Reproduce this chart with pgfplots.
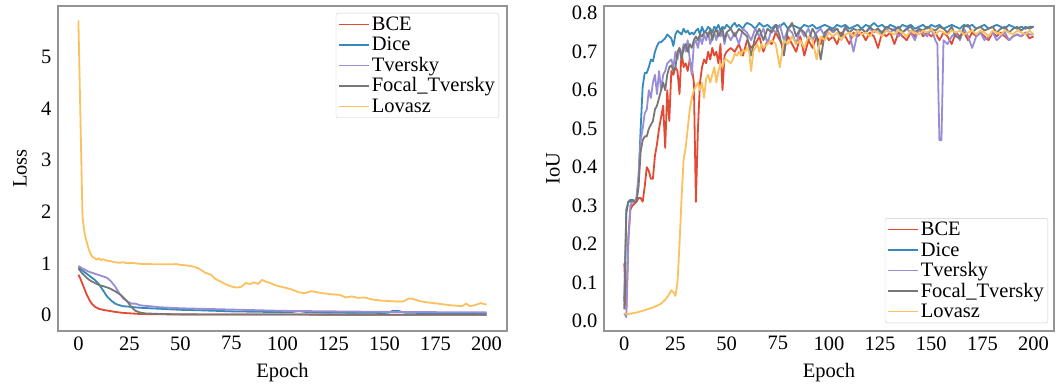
\documentclass[border=0pt]{standalone}
\usepackage{fontspec}
\setmainfont{Liberation Serif}
\usepackage{pgfplots}
\pgfplotsset{compat=1.18}
\definecolor{cBCE}{HTML}{E24A33}
\definecolor{cDice}{HTML}{348ABD}
\definecolor{cTv}{HTML}{988ED5}
\definecolor{cFT}{HTML}{777777}
\definecolor{cLov}{HTML}{FBC15E}
\newcommand{\bigf}{\fontsize{20.5}{24}\selectfont}
\pgfplotsset{
  myaxis/.style={
    scale only axis,
    axis line style={draw=black!42, line width=1.3pt},
    major tick length=0pt,
    tick style={draw=none},
    /pgf/number format/assume math mode=true,
    tick label style={font=\bigf},
    label style={font=\bigf},
    xtick={0,25,...,200},
    xlabel={Epoch},
    xlabel style={at={(axis description cs:0.5,0)}, anchor=base, yshift=-46pt},
    yticklabel style={xshift=-3pt},
    xticklabel style={yshift=-2pt},
    every axis plot/.append style={line width=1.8pt, line join=round},
    legend cell align=left,
    legend image code/.code={\draw[#1, line width=1.8pt] (0pt,0pt) -- (30pt,0pt);},
    legend style={font=\bigf, draw=black!20, rounded corners=2pt, fill=white,
      inner xsep=2pt, inner ysep=1pt, row sep=0pt,
      nodes={inner xsep=2pt, inner ysep=0.75pt, text height=15.5pt, text depth=3.5pt}},
  }
}
\begin{document}
\begin{tikzpicture}[font=\bigf]
\useasboundingbox (-58pt,-55pt) rectangle (998pt,331pt);
\begin{axis}[myaxis, at={(0pt,0pt)}, anchor=south west,
  width=449pt, height=325pt,
  xmin=-10, xmax=210, ymin=-0.31, ymax=5.98,
  ytick={0,1,2,3,4,5},
  ylabel={Loss},
  ylabel style={at={(axis description cs:-0.0846,0.5)}, anchor=center},
  legend style={at={(1,1)}, anchor=north east, xshift=-8pt, yshift=-7pt},
]
\addplot[cBCE] coordinates {(0,0.78)(1,0.7)(2,0.6)(3,0.5)(4,0.4)(5,0.32)(6,0.25)(7,0.2)(8,0.16)(10,0.12)(12,0.1)(15,0.08)(18,0.06)(22,0.04)(26,0.03)(30,0.02)(35,0.015)(50,0.01)(100,0.008)(150,0.006)(200,0.005)};
\addlegendentry{BCE}
\addplot[cDice] coordinates {(0,0.92)(2,0.86)(4,0.8)(6,0.74)(8,0.68)(10,0.6)(12,0.48)(14,0.36)(16,0.28)(18,0.22)(20,0.19)(22,0.17)(25,0.16)(30,0.14)(35,0.13)(40,0.12)(50,0.1)(60,0.09)(75,0.07)(100,0.055)(105,0.06)(108,0.075)(111,0.06)(120,0.05)(150,0.04)(152,0.045)(154,0.08)(157,0.075)(160,0.045)(175,0.035)(200,0.03)};
\addlegendentry{Dice}
\addplot[cTv] coordinates {(0,0.95)(2,0.9)(5,0.84)(8,0.8)(11,0.76)(14,0.72)(16,0.65)(18,0.55)(20,0.42)(22,0.32)(24,0.26)(26,0.22)(28,0.22)(30,0.19)(32,0.18)(35,0.17)(40,0.15)(50,0.13)(60,0.12)(70,0.11)(80,0.1)(100,0.08)(125,0.07)(150,0.06)(175,0.055)(200,0.05)};
\addlegendentry{Tversky}
\addplot[cFT] coordinates {(0,0.9)(2,0.8)(4,0.72)(6,0.66)(8,0.62)(10,0.58)(12,0.56)(15,0.52)(18,0.46)(21,0.38)(24,0.26)(26,0.15)(28,0.08)(30,0.05)(33,0.03)(40,0.02)(50,0.012)(100,0.008)(200,0.005)};
\addlegendentry{Focal\_Tversky}
\addplot[cLov] coordinates {(0,5.7)(2,1.9)(3,1.58)(4,1.42)(5,1.28)(6,1.18)(7,1.12)(8,1.1)(9,1.07)(10,1.1)(11,1.06)(12,1.08)(14,1.05)(16,1.04)(18,1.02)(20,1.01)(22,1.02)(24,1.0)(26,1.01)(30,0.99)(35,0.985)(40,0.98)(45,0.98)(48,0.985)(50,0.97)(53,0.96)(56,0.94)(59,0.9)(62,0.82)(65,0.78)(67,0.7)(70,0.64)(73,0.58)(76,0.54)(78,0.53)(80,0.55)(82,0.62)(84,0.6)(86,0.63)(88,0.6)(90,0.68)(92,0.64)(94,0.62)(96,0.58)(100,0.54)(104,0.5)(108,0.44)(111,0.42)(114,0.46)(117,0.44)(120,0.42)(124,0.4)(128,0.39)(131,0.34)(134,0.36)(137,0.33)(140,0.34)(144,0.3)(148,0.28)(152,0.27)(156,0.26)(159,0.26)(162,0.32)(164,0.31)(167,0.27)(170,0.25)(174,0.23)(178,0.21)(182,0.19)(185,0.18)(188,0.17)(190,0.22)(192,0.17)(195,0.2)(197,0.23)(200,0.2)};
\addlegendentry{Lovasz}
\end{axis}
\begin{axis}[myaxis, at={(546pt,0pt)}, anchor=south west,
  width=450pt, height=325pt,
  xmin=-9.9, xmax=210, ymin=-0.026, ymax=0.819,
  ytick={0,0.1,...,0.8},
  yticklabel style={/pgf/number format/.cd, fixed, fixed zerofill, precision=1},
  ylabel={IoU},
  ylabel style={at={(axis description cs:-0.1133,0.5)}, anchor=center},
  legend style={at={(1,0)}, anchor=south east, xshift=-6pt, yshift=8pt},
]
\addplot[cBCE] coordinates {(0,0.15)(1,0.03)(2,0.22)(3,0.29)(4,0.30)(5,0.305)(6,0.31)(7,0.32)(8,0.32)(9,0.31)(10,0.35)(11,0.40)(12,0.39)(13,0.37)(14,0.37)(15,0.43)(16,0.46)(17,0.50)(18,0.53)(19,0.56)(20,0.45)(21,0.60)(22,0.52)(23,0.65)(24,0.64)(25,0.66)(26,0.65)(27,0.59)(28,0.70)(29,0.66)(30,0.67)(31,0.65)(32,0.68)(33,0.66)(34,0.62)(35,0.31)(36,0.50)(37,0.62)(38,0.66)(39,0.68)(40,0.67)(41,0.70)(42,0.68)(43,0.71)(44,0.69)(45,0.70)(46,0.67)(47,0.72)(48,0.60)(49,0.69)(50,0.70)(52,0.71)(54,0.70)(56,0.72)(58,0.69)(60,0.73)(62,0.71)(64,0.72)(66,0.74)(68,0.70)(70,0.73)(72,0.72)(74,0.75)(76,0.73)(78,0.71)(80,0.74)(82,0.72)(84,0.70)(86,0.74)(88,0.69)(90,0.73)(92,0.71)(94,0.74)(96,0.72)(98,0.75)(100,0.73)(102,0.74)(104,0.72)(106,0.75)(108,0.74)(110,0.72)(112,0.75)(114,0.74)(116,0.75)(118,0.73)(120,0.75)(122,0.74)(124,0.71)(126,0.75)(128,0.74)(130,0.75)(132,0.72)(134,0.75)(136,0.74)(138,0.73)(140,0.75)(142,0.74)(144,0.76)(146,0.74)(148,0.75)(150,0.74)(152,0.75)(154,0.73)(156,0.75)(158,0.74)(160,0.72)(162,0.75)(164,0.74)(166,0.75)(168,0.73)(170,0.75)(172,0.74)(174,0.75)(176,0.74)(178,0.73)(180,0.75)(182,0.74)(184,0.75)(186,0.74)(188,0.73)(190,0.74)(192,0.745)(194,0.74)(196,0.75)(198,0.735)(200,0.74)};
\addlegendentry{BCE}
\addplot[cDice] coordinates {(0,0.05)(1,0.29)(2,0.31)(3,0.315)(4,0.315)(5,0.31)(6,0.32)(7,0.37)(8,0.5)(9,0.61)(10,0.645)(11,0.645)(12,0.66)(13,0.68)(14,0.675)(15,0.70)(16,0.715)(17,0.725)(18,0.725)(19,0.73)(20,0.735)(21,0.745)(22,0.74)(23,0.735)(24,0.715)(25,0.745)(26,0.755)(27,0.75)(28,0.745)(29,0.76)(30,0.75)(31,0.755)(32,0.745)(33,0.75)(34,0.745)(35,0.755)(36,0.76)(37,0.745)(38,0.765)(39,0.75)(40,0.755)(41,0.765)(42,0.76)(43,0.75)(44,0.765)(45,0.76)(46,0.77)(47,0.755)(48,0.765)(49,0.76)(50,0.77)(51,0.765)(52,0.76)(53,0.77)(54,0.775)(55,0.765)(56,0.77)(57,0.765)(58,0.76)(59,0.77)(60,0.775)(62,0.77)(64,0.76)(66,0.775)(68,0.765)(70,0.77)(72,0.76)(74,0.77)(76,0.765)(78,0.775)(80,0.76)(82,0.77)(84,0.765)(86,0.76)(88,0.77)(90,0.765)(92,0.77)(94,0.76)(96,0.765)(98,0.77)(100,0.765)(102,0.76)(104,0.77)(106,0.765)(108,0.77)(110,0.76)(112,0.765)(114,0.77)(116,0.76)(118,0.77)(120,0.765)(122,0.775)(124,0.765)(126,0.77)(128,0.76)(130,0.77)(132,0.765)(134,0.76)(136,0.77)(138,0.765)(140,0.77)(142,0.76)(144,0.765)(146,0.77)(148,0.76)(150,0.77)(152,0.765)(154,0.77)(156,0.76)(158,0.765)(160,0.77)(162,0.765)(164,0.76)(166,0.77)(168,0.765)(170,0.77)(172,0.76)(174,0.765)(176,0.77)(178,0.76)(180,0.765)(182,0.77)(184,0.765)(186,0.76)(188,0.77)(190,0.765)(192,0.76)(194,0.765)(196,0.76)(198,0.765)(200,0.765)};
\addlegendentry{Dice}
\addplot[cTv] coordinates {(0,0.02)(1,0.01)(2,0.20)(3,0.30)(4,0.31)(5,0.31)(6,0.32)(7,0.38)(8,0.47)(9,0.50)(10,0.54)(11,0.55)(12,0.60)(13,0.58)(14,0.62)(15,0.64)(16,0.59)(17,0.65)(18,0.60)(19,0.64)(20,0.65)(21,0.67)(22,0.675)(23,0.68)(24,0.66)(25,0.70)(26,0.68)(27,0.71)(28,0.69)(29,0.72)(30,0.70)(31,0.73)(32,0.68)(33,0.64)(34,0.72)(35,0.73)(36,0.71)(37,0.74)(38,0.72)(39,0.745)(40,0.73)(41,0.75)(42,0.72)(43,0.74)(44,0.75)(45,0.73)(46,0.755)(47,0.74)(48,0.75)(49,0.72)(50,0.75)(52,0.73)(54,0.75)(56,0.72)(58,0.76)(60,0.75)(62,0.73)(64,0.76)(66,0.74)(68,0.76)(70,0.72)(72,0.76)(74,0.75)(76,0.77)(78,0.73)(80,0.76)(82,0.75)(84,0.72)(86,0.76)(88,0.74)(90,0.76)(92,0.73)(94,0.75)(96,0.76)(98,0.74)(100,0.76)(102,0.75)(104,0.76)(106,0.74)(108,0.76)(110,0.75)(112,0.70)(114,0.75)(116,0.76)(118,0.75)(120,0.76)(122,0.75)(124,0.76)(126,0.74)(128,0.76)(130,0.75)(132,0.76)(134,0.74)(136,0.75)(138,0.76)(140,0.75)(142,0.73)(144,0.76)(146,0.75)(148,0.74)(150,0.76)(152,0.73)(153,0.72)(154,0.47)(155,0.47)(156,0.73)(158,0.72)(160,0.74)(162,0.75)(164,0.73)(166,0.76)(168,0.74)(170,0.71)(172,0.74)(174,0.75)(176,0.73)(178,0.74)(180,0.75)(182,0.73)(184,0.74)(186,0.75)(188,0.73)(190,0.74)(192,0.745)(194,0.74)(196,0.75)(198,0.745)(200,0.745)};
\addlegendentry{Tversky}
\addplot[cFT] coordinates {(0,0.03)(1,0.28)(2,0.31)(3,0.31)(4,0.315)(5,0.31)(6,0.31)(7,0.35)(8,0.44)(9,0.47)(10,0.48)(11,0.48)(12,0.50)(13,0.51)(14,0.52)(15,0.55)(16,0.56)(17,0.58)(18,0.60)(19,0.62)(20,0.60)(21,0.64)(22,0.66)(23,0.665)(24,0.65)(25,0.66)(26,0.70)(27,0.71)(28,0.68)(29,0.71)(30,0.72)(31,0.70)(32,0.72)(33,0.71)(34,0.73)(35,0.74)(36,0.73)(37,0.745)(38,0.74)(39,0.75)(40,0.75)(41,0.74)(42,0.76)(43,0.73)(44,0.75)(45,0.76)(46,0.74)(47,0.75)(48,0.76)(49,0.73)(50,0.75)(52,0.76)(54,0.74)(56,0.76)(58,0.75)(60,0.74)(62,0.69)(64,0.74)(66,0.76)(68,0.73)(70,0.76)(72,0.75)(74,0.77)(76,0.74)(78,0.69)(80,0.76)(82,0.775)(84,0.74)(86,0.76)(88,0.75)(90,0.73)(92,0.76)(94,0.74)(96,0.68)(98,0.75)(100,0.76)(102,0.755)(104,0.76)(106,0.74)(108,0.765)(110,0.75)(112,0.76)(114,0.755)(116,0.76)(118,0.75)(120,0.765)(122,0.755)(124,0.76)(126,0.75)(128,0.765)(130,0.76)(132,0.755)(134,0.765)(136,0.75)(138,0.76)(140,0.765)(142,0.75)(144,0.76)(146,0.755)(148,0.765)(150,0.76)(152,0.755)(154,0.765)(156,0.76)(158,0.75)(160,0.765)(162,0.74)(164,0.735)(166,0.765)(168,0.77)(170,0.75)(172,0.76)(174,0.765)(176,0.755)(178,0.76)(180,0.765)(182,0.75)(184,0.76)(186,0.765)(188,0.75)(190,0.76)(192,0.765)(194,0.755)(196,0.765)(198,0.76)(200,0.765)};
\addlegendentry{Focal\_Tversky}
\addplot[cLov] coordinates {(0,0.02)(2,0.018)(4,0.02)(6,0.022)(8,0.025)(10,0.028)(12,0.032)(14,0.035)(16,0.04)(18,0.045)(20,0.055)(22,0.07)(23,0.08)(24,0.075)(25,0.065)(26,0.1)(27,0.2)(28,0.32)(29,0.42)(30,0.45)(31,0.5)(32,0.55)(33,0.58)(34,0.6)(35,0.61)(36,0.62)(37,0.6)(38,0.62)(39,0.58)(40,0.63)(41,0.64)(42,0.62)(43,0.64)(44,0.66)(45,0.62)(46,0.65)(47,0.67)(48,0.66)(49,0.68)(50,0.68)(51,0.675)(52,0.67)(53,0.68)(54,0.695)(55,0.69)(56,0.7)(57,0.69)(58,0.705)(59,0.7)(60,0.71)(61,0.7)(62,0.65)(63,0.7)(64,0.71)(65,0.72)(66,0.7)(67,0.72)(68,0.71)(70,0.72)(72,0.73)(74,0.72)(76,0.66)(78,0.73)(80,0.72)(82,0.74)(84,0.72)(86,0.73)(88,0.71)(90,0.74)(92,0.73)(94,0.68)(96,0.74)(98,0.73)(100,0.75)(102,0.74)(104,0.75)(106,0.73)(108,0.745)(110,0.75)(112,0.74)(114,0.755)(116,0.745)(118,0.75)(120,0.74)(122,0.755)(124,0.75)(126,0.74)(128,0.755)(130,0.75)(132,0.745)(134,0.755)(136,0.75)(138,0.74)(140,0.755)(142,0.75)(144,0.745)(146,0.755)(148,0.75)(150,0.76)(152,0.745)(154,0.755)(156,0.75)(158,0.745)(160,0.755)(162,0.75)(164,0.755)(166,0.745)(168,0.75)(170,0.755)(172,0.745)(174,0.755)(176,0.75)(178,0.74)(180,0.755)(182,0.75)(184,0.745)(186,0.755)(188,0.75)(190,0.745)(192,0.755)(194,0.75)(196,0.745)(198,0.755)(200,0.745)};
\addlegendentry{Lovasz}
\end{axis}
\end{tikzpicture}
\end{document}
